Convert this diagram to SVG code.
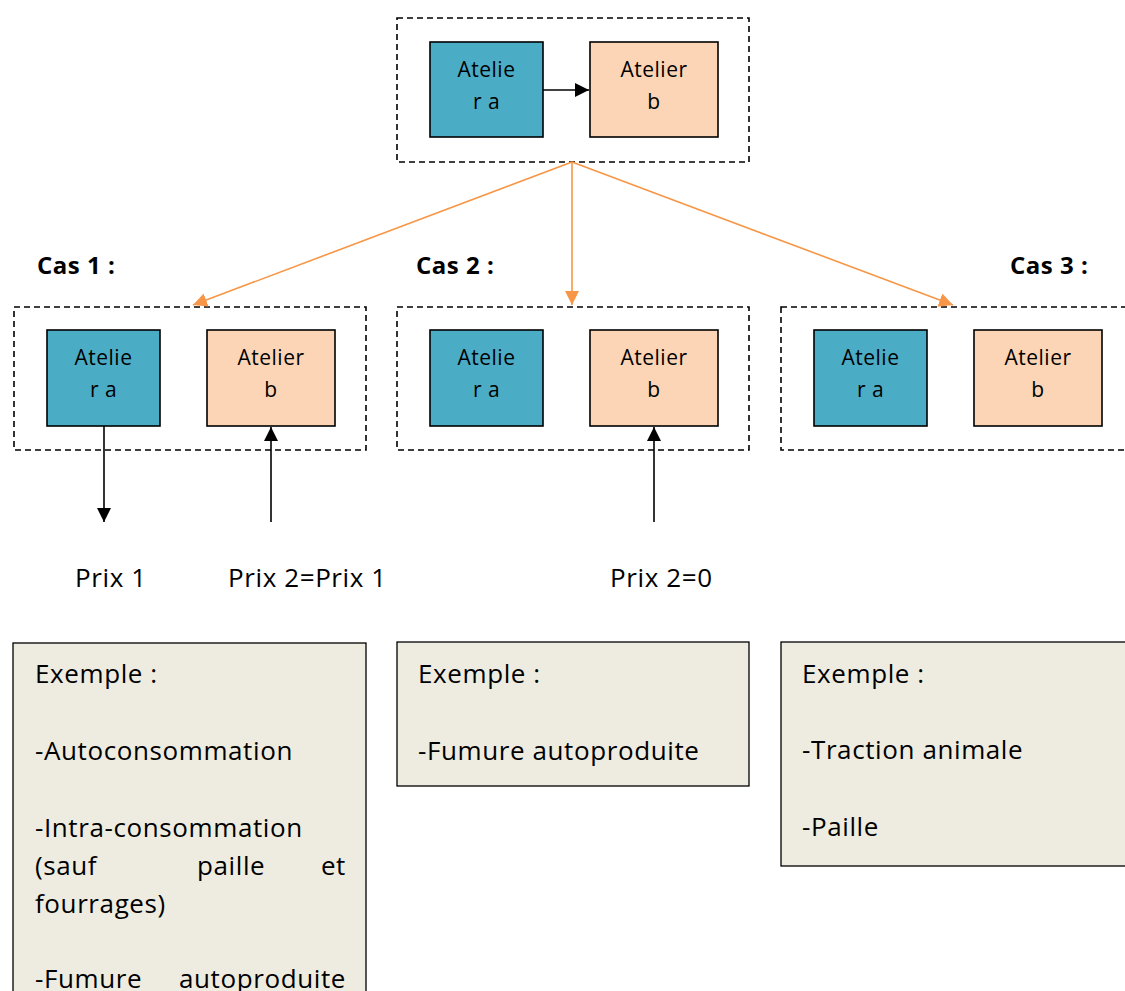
<svg xmlns="http://www.w3.org/2000/svg" width="1125" height="991" viewBox="0 0 1125 991">
<defs>
<style>
.frame{fill:none;stroke:#000;stroke-width:1.6;stroke-dasharray:6,4}
.a{fill:#4BACC6;stroke:#000;stroke-width:1.6}
.b{fill:#FBD5B5;stroke:#000;stroke-width:1.6}
.nt{font-family:"Open Sans","Liberation Sans",sans-serif;font-size:21px;letter-spacing:0.5px;fill:#000;text-anchor:middle}
.t{font-family:"Open Sans","Liberation Sans",sans-serif;font-size:26px;letter-spacing:0.6px;fill:#000}
.cas{font-family:"Open Sans","Liberation Sans",sans-serif;font-size:24px;letter-spacing:0.5px;font-weight:bold;fill:#000}
.ex{fill:#EEECE1;stroke:#000;stroke-width:1.3}
.blk{stroke:#000;stroke-width:1.6;fill:none}
.org{stroke:#F79646;stroke-width:1.6;fill:none}
</style>
<marker id="ab" viewBox="0 0 10 10" refX="10" refY="5" markerWidth="14" markerHeight="14" markerUnits="userSpaceOnUse" orient="auto"><path d="M0,0 L10,5 L0,10 Z" fill="#000"/></marker>
<marker id="ao" viewBox="0 0 10 10" refX="10" refY="5" markerWidth="14" markerHeight="14" markerUnits="userSpaceOnUse" orient="auto"><path d="M0,0 L10,5 L0,10 Z" fill="#F79646"/></marker>
</defs>

<g id="top">
<rect class="frame" x="397" y="18" width="352" height="144"/>
<g id="top-a"><rect class="a" x="430" y="42" width="113" height="95"/><text class="nt" x="486.5" y="77">Atelie</text><text class="nt" x="486.5" y="109">r a</text></g>
<g id="top-b"><rect class="b" x="590" y="42" width="128" height="95"/><text class="nt" x="654" y="77">Atelier</text><text class="nt" x="654" y="109">b</text></g>
</g>

<g id="cas1">
<text class="cas" x="37" y="274">Cas 1 :</text>
<rect class="frame" x="14" y="307" width="352" height="143"/>
<g id="cas1-a"><rect class="a" x="47" y="330" width="113" height="96"/><text class="nt" x="103.5" y="365">Atelie</text><text class="nt" x="103.5" y="397">r a</text></g>
<g id="cas1-b"><rect class="b" x="207" y="330" width="128" height="96"/><text class="nt" x="271" y="365">Atelier</text><text class="nt" x="271" y="397">b</text></g>
</g>

<g id="cas2">
<text class="cas" x="416" y="274">Cas 2 :</text>
<rect class="frame" x="397" y="307" width="352" height="143"/>
<g id="cas2-a"><rect class="a" x="430" y="330" width="113" height="96"/><text class="nt" x="486.5" y="365">Atelie</text><text class="nt" x="486.5" y="397">r a</text></g>
<g id="cas2-b"><rect class="b" x="590" y="330" width="128" height="96"/><text class="nt" x="654" y="365">Atelier</text><text class="nt" x="654" y="397">b</text></g>
</g>

<g id="cas3">
<text class="cas" x="1010" y="274">Cas 3 :</text>
<rect class="frame" x="781" y="307" width="360" height="143"/>
<g id="cas3-a"><rect class="a" x="814" y="330" width="113" height="96"/><text class="nt" x="870.5" y="365">Atelie</text><text class="nt" x="870.5" y="397">r a</text></g>
<g id="cas3-b"><rect class="b" x="974" y="330" width="128" height="96"/><text class="nt" x="1038" y="365">Atelier</text><text class="nt" x="1038" y="397">b</text></g>
</g>

<g id="prix">
<text class="t" x="75" y="587">Prix 1</text>
<text class="t" x="228" y="587">Prix 2=Prix 1</text>
<text class="t" x="610" y="587">Prix 2=0</text>
</g>

<g id="ex1">
<rect class="ex" x="13" y="643" width="353" height="360"/>
<text class="t" x="35" y="683">Exemple :</text>
<text class="t" x="35" y="760">-Autoconsommation</text>
<text class="t" x="35" y="837">-Intra-consommation</text>
<text class="t" x="35" y="875">(sauf</text>
<text class="t" x="197" y="875">paille</text>
<text class="t" x="346" y="875" text-anchor="end">et</text>
<text class="t" x="35" y="913">fourrages)</text>
<text class="t" x="35" y="988">-Fumure</text>
<text class="t" x="346" y="988" text-anchor="end">autoproduite</text>
</g>

<g id="ex2">
<rect class="ex" x="397" y="642" width="352" height="144"/>
<text class="t" x="418" y="683">Exemple :</text>
<text class="t" x="418" y="760">-Fumure autoproduite</text>
</g>

<g id="ex3">
<rect class="ex" x="781" y="642" width="360" height="224"/>
<text class="t" x="802" y="683">Exemple :</text>
<text class="t" x="802" y="759">-Traction animale</text>
<text class="t" x="802" y="836">-Paille</text>
</g>

<g id="connectors">
<line class="blk" x1="543" y1="90" x2="589" y2="90" marker-end="url(#ab)"/>
<line class="org" x1="572" y1="162" x2="193" y2="305" marker-end="url(#ao)"/>
<line class="org" x1="572" y1="162" x2="572" y2="305" marker-end="url(#ao)"/>
<line class="org" x1="572" y1="162" x2="953" y2="305" marker-end="url(#ao)"/>
<line class="blk" x1="104" y1="426" x2="104" y2="522" marker-end="url(#ab)"/>
<line class="blk" x1="271" y1="522" x2="271" y2="427" marker-end="url(#ab)"/>
<line class="blk" x1="654" y1="522" x2="654" y2="427" marker-end="url(#ab)"/>
</g>
</svg>
